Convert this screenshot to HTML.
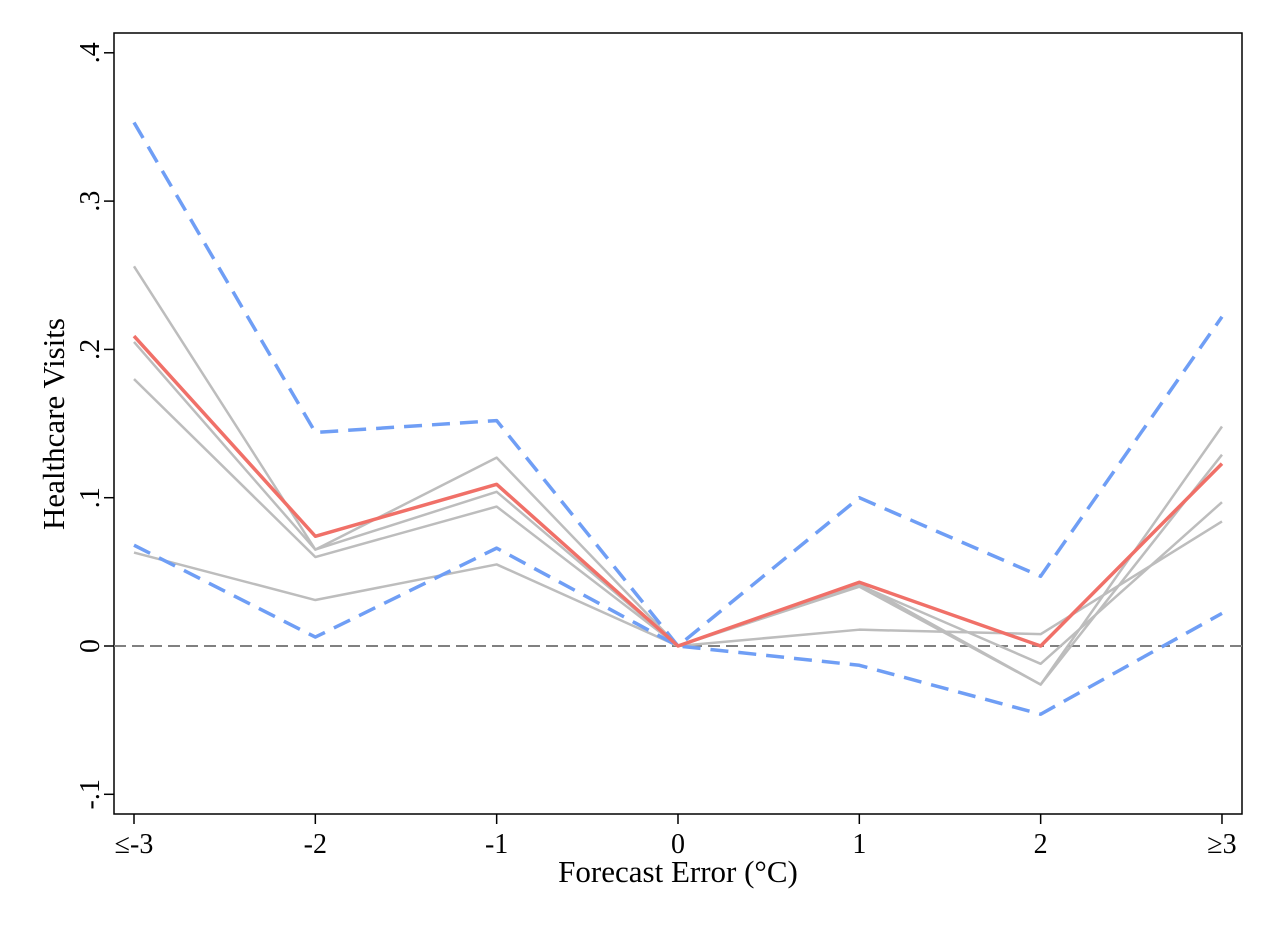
<!DOCTYPE html>
<html><head><meta charset="utf-8"><style>
html,body{margin:0;padding:0;background:#fff;}
svg{display:block;font-family:"Liberation Serif",serif;}
</style></head><body>
<svg id="chart" width="1276" height="928">
<rect x="0" y="0" width="1276" height="928" fill="#fff"/>
<rect x="114" y="33" width="1128" height="781" fill="none" stroke="#000" stroke-width="1.5"/>
<g id="marks"></g>
<text x="678" y="882" font-size="31" text-anchor="middle">Forecast Error (°C)</text>
<text transform="translate(64,424) rotate(-90)" font-size="31" text-anchor="middle">Healthcare Visits</text>
</svg>
<script>
const categories=["≤-3","-2","-1","0","1","2","≥3"];
const yTicks=[-0.1,0,0.1,0.2,0.3,0.4];
const yTickLabels=["-.1","0",".1",".2",".3",".4"];
const mainSeries=[0.209,0.074,0.109,0,0.043,0,0.123];
const upperCI=[0.353,0.144,0.152,0,0.100,0.047,0.222];
const lowerCI=[0.068,0.006,0.066,0,-0.013,-0.046,0.022];
const gray1=[0.256,0.065,0.127,0,0.042,-0.026,0.148];
const gray2=[0.205,0.065,0.104,0,0.040,-0.026,0.129];
const gray3=[0.180,0.060,0.094,0,0.041,-0.012,0.097];
const gray4=[0.063,0.031,0.055,0,0.011,0.008,0.084];

const NS="http://www.w3.org/2000/svg";
const g=document.getElementById('marks');
const xs=i=>134+i*181.33;
const ys=v=>646-v*1483;
function mk(t,a){const e=document.createElementNS(NS,t);for(const k in a)e.setAttribute(k,a[k]);g.appendChild(e);return e;}
const z=mk('line',{x1:114,x2:1242,y1:ys(0),y2:ys(0),stroke:'#808080','stroke-width':2,'stroke-dasharray':'12,6'});


yTicks.forEach((v,i)=>{
  const t=mk('line',{x1:104,x2:114,y1:ys(v),y2:ys(v),stroke:'#000','stroke-width':1.5});
  
  
  const l=mk('text',{transform:`translate(99,${ys(v)}) rotate(-90)`,'font-size':28,'text-anchor':'middle'});
  l.textContent=yTickLabels[i];
  
  
});
categories.forEach((c,i)=>{
  const t=mk('line',{x1:xs(i),x2:xs(i),y1:814,y2:824,stroke:'#000','stroke-width':1.5});
  
  
  const l=mk('text',{x:xs(i),y:853,'font-size':28,'text-anchor':'middle'});
  l.textContent=c;
  
  
});
function line(arr,stroke,w,dash,name){
  const p=mk('polyline',{points:arr.map((v,i)=>xs(i)+','+ys(v)).join(' '),fill:'none',stroke:stroke,'stroke-width':w,'stroke-linejoin':'round'});
  if(dash)p.setAttribute('stroke-dasharray',dash);
  
  
}
line(gray1,'#bdbdbd',2.5,null,'robustness-line-1');
line(gray2,'#bdbdbd',2.5,null,'robustness-line-2');
line(gray3,'#bdbdbd',2.5,null,'robustness-line-3');
line(gray4,'#bdbdbd',2.5,null,'robustness-line-4');
line(upperCI,'#6f9ef5',3.5,'18,10','upper-ci-line');
line(lowerCI,'#6f9ef5',3.5,'18,10','lower-ci-line');
line(mainSeries,'#f07068',3.5,null,'main-estimate-line');
</script>
</body></html>
